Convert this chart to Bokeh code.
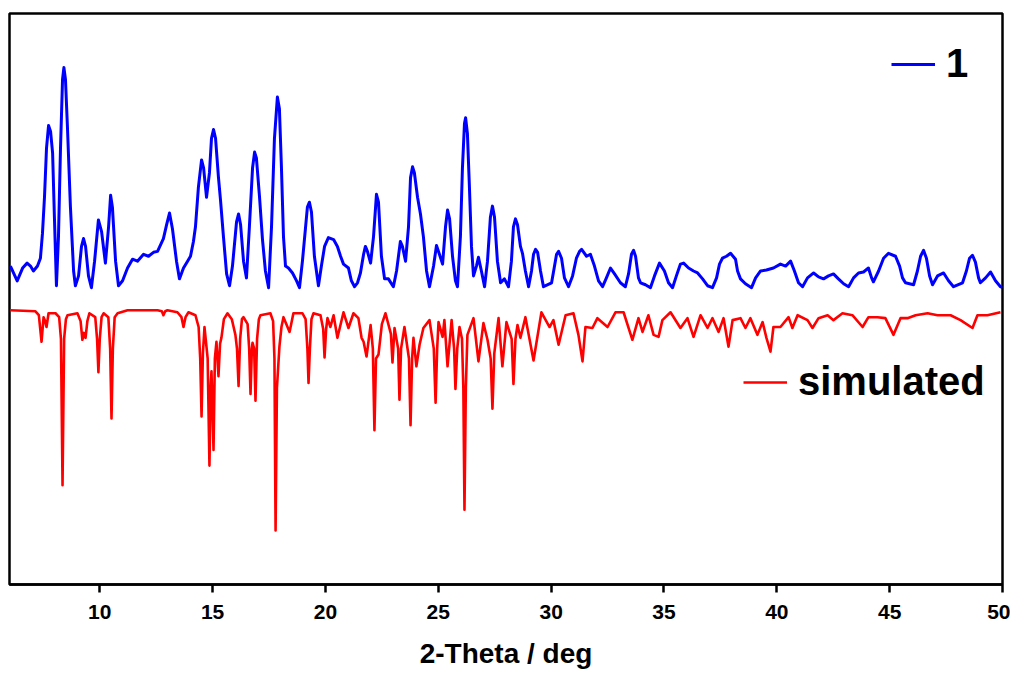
from bokeh.plotting import figure
from bokeh.models import Range1d, Legend, LegendItem, FixedTicker
from bokeh.embed import file_html
from bokeh.resources import INLINE

# Experimental pattern of 1 (2-theta in deg, intensity in a.u.)
exp_2theta = [6.04, 6.34, 6.58, 6.78, 6.93, 7.06, 7.24, 7.37, 7.46, 7.55, 7.64, 7.73, 7.82, 7.91,
              7.99, 8.08, 8.17, 8.26, 8.35, 8.41, 8.48, 8.57, 8.70, 8.84, 8.92, 9.06, 9.19, 9.28,
              9.37, 9.50, 9.63, 9.77, 9.94, 10.08, 10.25, 10.39, 10.48, 10.56, 10.70, 10.83, 11.01,
              11.23, 11.45, 11.67, 11.94, 12.16, 12.38, 12.56, 12.82, 12.96, 13.09, 13.22, 13.40,
              13.53, 13.71, 13.89, 14.02, 14.15, 14.24, 14.37, 14.51, 14.60, 14.73, 14.86, 14.95,
              15.04, 15.13, 15.26, 15.35, 15.48, 15.62, 15.75, 15.88, 16.06, 16.15, 16.24, 16.37,
              16.50, 16.63, 16.77, 16.86, 16.94, 17.08, 17.21, 17.34, 17.48, 17.61, 17.74, 17.87,
              17.96, 18.05, 18.14, 18.23, 18.36, 18.54, 18.72, 18.85, 18.98, 19.12, 19.20, 19.29,
              19.38, 19.51, 19.69, 19.82, 19.96, 20.13, 20.36, 20.53, 20.67, 20.80, 21.02, 21.15,
              21.29, 21.42, 21.55, 21.69, 21.77, 21.86, 22.00, 22.13, 22.26, 22.35, 22.48, 22.62,
              22.79, 23.01, 23.15, 23.32, 23.41, 23.55, 23.68, 23.77, 23.86, 23.94, 24.08, 24.21,
              24.34, 24.48, 24.61, 24.79, 24.92, 25.05, 25.19, 25.32, 25.41, 25.50, 25.63, 25.76,
              25.85, 25.98, 26.07, 26.16, 26.21, 26.29, 26.38, 26.47, 26.56, 26.69, 26.78, 26.91,
              27.05, 27.18, 27.31, 27.40, 27.49, 27.62, 27.76, 27.93, 28.11, 28.24, 28.33, 28.42,
              28.51, 28.64, 28.73, 28.86, 29.00, 29.13, 29.22, 29.31, 29.40, 29.53, 29.66, 30.02,
              30.15, 30.24, 30.33, 30.46, 30.59, 30.77, 30.95, 31.12, 31.26, 31.35, 31.57, 31.74,
              31.92, 32.10, 32.28, 32.45, 32.63, 32.81, 33.07, 33.29, 33.43, 33.56, 33.65, 33.74,
              33.87, 33.96, 34.18, 34.40, 34.58, 34.80, 35.02, 35.20, 35.38, 35.55, 35.73, 35.87,
              36.09, 36.31, 36.49, 36.71, 36.93, 37.15, 37.33, 37.46, 37.59, 37.77, 37.95, 38.17,
              38.26, 38.39, 38.61, 38.88, 39.06, 39.28, 39.54, 39.85, 40.16, 40.39, 40.61, 40.78,
              40.96, 41.14, 41.36, 41.63, 41.85, 42.07, 42.29, 42.51, 42.73, 42.96, 43.18, 43.40,
              43.62, 43.84, 44.06, 44.20, 44.28, 44.51, 44.73, 44.95, 45.26, 45.44, 45.57, 45.70,
              46.06, 46.23, 46.37, 46.50, 46.63, 46.77, 46.90, 47.12, 47.39, 47.61, 47.83, 48.23,
              48.40, 48.54, 48.67, 48.80, 48.94, 49.02, 49.25, 49.47, 49.69, 49.91, 50.00]
exp_int = [324, 309, 322, 327, 324, 319, 324, 332, 357, 394, 444, 467, 461, 439,
           374, 304, 354, 444, 514, 526, 514, 464, 384, 319, 304, 314, 344, 352,
           344, 314, 302, 329, 371, 359, 327, 364, 396, 384, 329, 304, 309,
           322, 331, 329, 336, 334, 338, 339, 352, 366, 378, 362, 329,
           311, 322, 329, 334, 349, 364, 404, 432, 424, 394, 419, 454,
           463, 454, 414, 391, 354, 316, 304, 324, 369, 377, 366, 329,
           312, 364, 424, 440, 434, 394, 351, 319, 302, 364, 454, 496,
           484, 424, 354, 324, 322, 317, 309, 302, 329, 364, 384, 389,
           379, 334, 304, 324, 344, 353, 351, 344, 334, 326, 322, 309,
           303, 307, 317, 336, 344, 339, 327, 354, 397, 389, 334, 311,
           311, 303, 319, 349, 344, 329, 364, 414, 425, 419, 394, 377,
           354, 319, 303, 324, 345, 336, 326, 364, 381, 372, 334, 309,
           303, 354, 424, 469, 475, 459, 404, 344, 314, 324, 333, 319,
           303, 329, 374, 385, 374, 329, 307, 311, 303, 329, 364, 372,
           366, 344, 337, 319, 303, 319, 336, 341, 338, 319, 303, 307,
           324, 336, 339, 332, 312, 303, 314, 332, 339, 341, 334, 336,
           324, 309, 303, 312, 322, 316, 307, 303, 316, 336, 340, 334,
           312, 307, 305, 302, 314, 327, 319, 307, 302, 314, 326, 327,
           322, 319, 317, 311, 304, 302, 312, 326, 332, 334, 337, 331,
           319, 311, 306, 302, 312, 319, 320, 322, 326, 324, 329, 319,
           307, 303, 312, 317, 313, 311, 314, 316, 311, 306, 303, 312,
           317, 318, 322, 312, 308, 319, 332, 337, 334, 324, 312, 307,
           305, 319, 334, 340, 332, 314, 305, 314, 317, 309, 303, 307,
           319, 332, 335, 328, 312, 307, 312, 318, 309, 303, 302]

# Simulated pattern (drawn inverted below the experimental one)
sim_2theta = [6.04, 7.15, 7.30, 7.42, 7.51, 7.58, 7.64, 7.73, 8.04, 8.20, 8.28, 8.35, 8.42, 8.50,
              8.57, 9.01, 9.15, 9.23, 9.30, 9.37, 9.45, 9.54, 9.80, 9.88, 9.94, 10.00, 10.08, 10.17,
              10.38, 10.46, 10.52, 10.58, 10.66, 10.79, 11.23, 12.56, 12.75, 12.82, 12.90, 13.00,
              13.44, 13.62, 13.71, 13.80, 13.93, 14.24, 14.38, 14.45, 14.51, 14.57, 14.64, 14.78,
              14.86, 14.91, 14.95, 15.04, 15.10, 15.17, 15.26, 15.33, 15.39, 15.50, 15.66, 15.85,
              15.93, 16.01, 16.08, 16.15, 16.22, 16.30, 16.37, 16.55, 16.62, 16.68, 16.74, 16.77,
              16.84, 16.90, 16.97, 17.05, 17.12, 17.56, 17.68, 17.74, 17.79, 17.85, 17.96, 18.05,
              18.14, 18.41, 18.58, 18.98, 19.12, 19.20, 19.25, 19.31, 19.38, 19.47, 19.78, 19.90,
              19.96, 20.03, 20.09, 20.22, 20.36, 20.53, 20.80, 21.02, 21.24, 21.46, 21.60, 21.69,
              21.82, 22.00, 22.10, 22.17, 22.24, 22.35, 22.50, 22.66, 22.90, 22.97, 23.06, 23.22,
              23.28, 23.35, 23.50, 23.70, 23.77, 23.84, 23.90, 24.03, 24.17, 24.34, 24.61, 24.80,
              24.88, 24.95, 25.01, 25.19, 25.27, 25.41, 25.59, 25.70, 25.76, 25.84, 25.94, 26.05,
              26.11, 26.16, 26.22, 26.29, 26.56, 26.78, 27.00, 27.18, 27.32, 27.40, 27.48, 27.67,
              27.84, 28.02, 28.25, 28.33, 28.42, 28.51, 28.64, 28.86, 29.22, 29.57, 29.93, 30.10,
              30.33, 30.64, 30.99, 31.21, 31.39, 31.52, 31.83, 32.05, 32.50, 32.85, 33.21, 33.60,
              33.87, 34.05, 34.31, 34.54, 34.76, 34.93, 35.29, 35.73, 36.04, 36.31, 36.62, 36.93,
              37.15, 37.42, 37.64, 37.86, 38.04, 38.39, 38.61, 38.83, 39.14, 39.37, 39.54, 39.72,
              39.85, 40.16, 40.52, 40.69, 40.92, 41.36, 41.58, 41.85, 42.25, 42.51, 42.91, 43.35,
              43.80, 44.06, 44.46, 44.81, 45.17, 45.48, 45.79, 46.15, 46.68, 47.12, 47.70, 48.14,
              48.67, 48.89, 49.33, 49.91]
sim_int = [279, 278, 274, 247, 272, 268, 262, 276, 276, 272, 250, 101, 250, 270,
           274, 276, 268, 249, 256, 251, 268, 276, 272, 250, 216, 250, 272, 276,
           272, 240, 169, 240, 272, 276, 279, 279, 278, 274, 278, 279,
           277, 272, 262, 272, 277, 274, 262, 230, 171, 235, 262, 230,
           121, 200, 217, 137, 230, 247, 212, 245, 251, 270, 276, 270,
           262, 254, 240, 202, 250, 270, 272, 265, 240, 194, 240, 246,
           240, 187, 250, 270, 274, 276, 268, 230, 55, 200, 242, 262,
           272, 257, 276, 276, 270, 240, 205, 240, 270, 276, 274, 260,
           231, 260, 271, 262, 274, 251, 277, 261, 276, 271, 251, 247,
           232, 264, 240, 157, 230, 234, 265, 276, 255, 226, 261, 240,
           188, 240, 262, 230, 162, 230, 251, 222, 244, 261, 269, 240,
           185, 240, 267, 252, 269, 222, 269, 240, 199, 240, 262, 250,
           200, 76, 200, 254, 271, 227, 266, 249, 230, 179, 235, 271,
           222, 267, 250, 204, 250, 264, 251, 272, 228, 277, 262, 269,
           244, 274, 276, 254, 227, 262, 261, 271, 262, 277, 277, 249,
           271, 257, 274, 254, 252, 269, 277, 261, 271, 252, 274, 261,
           271, 257, 271, 242, 269, 271, 261, 271, 254, 267, 251, 237,
           262, 262, 272, 261, 274, 269, 261, 271, 274, 269, 276, 274,
           262, 272, 272, 271, 254, 271, 271, 274, 276, 274, 274, 269,
           261, 274, 274, 277]

x_ticks = [10, 15, 20, 25, 30, 35, 40, 45, 50]

p = figure(width=1010, height=671, output_backend="svg", toolbar_location=None,
           x_range=Range1d(6, 50), y_range=Range1d(0, 581),
           min_border_left=9, min_border_right=8, min_border_top=13, min_border_bottom=77)
p.grid.visible = False
p.yaxis.visible = False
p.outline_line_color = "black"
p.outline_line_width = 2.5
p.background_fill_color = "white"
p.border_fill_color = "white"

ax = p.xaxis[0]
ax.ticker = FixedTicker(ticks=x_ticks)
ax.axis_line_width = 2.5
ax.axis_line_color = "black"
ax.major_tick_line_width = 2.5
ax.major_tick_in = 0
ax.major_tick_out = 8
ax.minor_tick_line_color = None
ax.major_label_text_font = "Liberation Sans"
ax.major_label_text_font_style = "bold"
ax.major_label_text_font_size = "21px"
ax.major_label_text_color = "black"
ax.major_label_standoff = 12
ax.axis_label = "2-Theta / deg"
ax.axis_label_text_font = "Liberation Sans"
ax.axis_label_text_font_style = "bold"
ax.axis_label_text_font_size = "28px"
ax.axis_label_text_color = "black"
ax.axis_label_standoff = 16

r_exp = p.line(exp_2theta, exp_int, line_color="#0000ff", line_width=3, line_join="round")
r_sim = p.line(sim_2theta, sim_int, line_color="#ff0000", line_width=2.6, line_join="round")

def make_legend(label, renderer, loc):
    lg = Legend(items=[LegendItem(label=label, renderers=[renderer])], location=loc,
                margin=0, padding=0, border_line_alpha=0, background_fill_alpha=0,
                glyph_width=44, label_standoff=11,
                label_text_font="Liberation Sans", label_text_font_style="bold",
                label_text_font_size="40px", label_text_color="black")
    p.add_layout(lg, "center")

make_legend("1", r_exp, (882, 498))
make_legend("simulated", r_sim, (734, 180))

open("out.html", "w").write(file_html(p, INLINE))
